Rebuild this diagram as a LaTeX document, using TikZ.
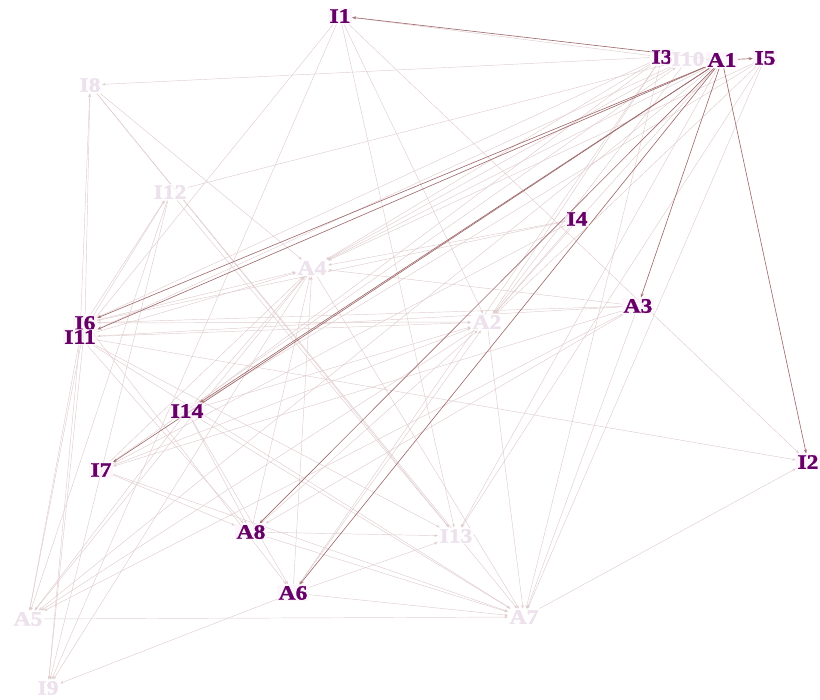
\documentclass[tikz,border=0pt]{standalone}
\usepackage{fontspec}
\newfontfamily\lblfont{Liberation Serif}[FakeStretch=1.15,FakeBold=1.2]
\usetikzlibrary{arrows.meta,backgrounds}
\definecolor{nodedark}{RGB}{102,0,102}
\definecolor{nodefaint}{RGB}{236,225,236}
\definecolor{edgelight}{RGB}{224,204,206}
\definecolor{edgedark}{RGB}{160,108,110}
\definecolor{glow}{RGB}{252,240,252}
\begin{document}
\begin{tikzpicture}[x=1pt,y=-1pt,
  lbl/.style={font=\lblfont\fontsize{20.5}{22}\selectfont\bfseries, inner sep=1.5pt},
  bn/.style={lbl, text=nodedark, fill=glow, fill opacity=0.6, text opacity=1},
  fn/.style={lbl, text=nodefaint, fill=white, fill opacity=0.8, text opacity=1},
  lightedge/.style={draw=edgelight, line width=0.45pt, -{Stealth[length=3.5pt,width=2.6pt]}},
  darkedge/.style={draw=edgedark, line width=0.65pt, -{Stealth[length=4pt,width=3pt]}}]
\useasboundingbox (0,0) rectangle (820,700);
% nodes
\node[bn] (I1)  at (340,16)  {I1};
\node[bn] (I3)  at (662,57)  {I3};
\node[fn] (I10) at (688,59)  {I10};
\node[bn] (A1)  at (722,60)  {A1};
\node[bn] (I5)  at (765,58)  {I5};
\node[fn] (I8)  at (90,85)   {I8};
\node[fn] (I12) at (170,192) {I12};
\node[bn] (I4)  at (577,219) {I4};
\node[fn] (A4)  at (312,268) {A4};
\node[bn] (I6)  at (85,323)  {I6};
\node[bn] (I11) at (80,337)  {I11};
\node[fn] (A2)  at (487,322) {A2};
\node[bn] (A3)  at (638,306) {A3};
\node[bn] (I14) at (187,411) {I14};
\node[bn] (I7)  at (101,470) {I7};
\node[bn] (I2)  at (808,462) {I2};
\node[bn] (A8)  at (251,532) {A8};
\node[fn] (I13) at (456,536) {I13};
\node[bn] (A6)  at (293,593) {A6};
\node[fn] (A5)  at (28,619)  {A5};
\node[fn] (A7)  at (524,617) {A7};
\node[fn] (I9)  at (48,688)  {I9};
\begin{scope}[on background layer]
\foreach \s/\t in {I3/I1, I1/I11, I1/A2, I1/I13, I1/I2, I1/I9,
  I3/I8, I11/I8, I6/I8, I8/A4, I8/I13, I8/A7,
  I12/I10, I11/I12, I12/A5, I12/I9, I12/I13, I6/I12,
  I3/A4, I10/A4, I4/A4, A3/A4, I6/A4, I11/A4, I7/A4, A4/A5, A6/A4, A4/A7, A8/A4, I14/A4,
  A1/A2, I10/A2, I5/A2, I3/A2, I6/A2, I11/A2, I14/A2, I7/A2, A8/A2, A6/A2, A2/A5, A2/A7,
  I11/I2, A7/I2, A3/I6, A3/I11, A3/I7, A3/A5, A3/A7, A3/A8,
  I5/A7, I3/A7, I11/A5, I6/A5, I14/A5, I11/I9, I6/I9, A4/I9, A6/I9, A5/A7,
  I11/I13, I11/A7, I11/A8, I6/A6, I14/A8, I14/A6, I14/A7, I3/I14,
  I7/A8, I7/A7, I7/I10, A8/I13, A8/A7, A6/I13, A6/A7, I3/A6,
  I5/I13, I4/I6, I4/A2, A1/A5, A1/I13, I3/I6, I10/I11, I5/I14, I4/I7, A1/A4, I5/A4, I10/A1}
  \draw[lightedge] (\s) -- (\t);
\foreach \s/\t in {A1/I1, A1/I5, A1/I2, A1/A3, A1/I6, A1/I11, A1/I14, A1/I7, A1/A8, A1/A6}
  \draw[darkedge] (\s) -- (\t);
\end{scope}
\end{tikzpicture}
\end{document}
